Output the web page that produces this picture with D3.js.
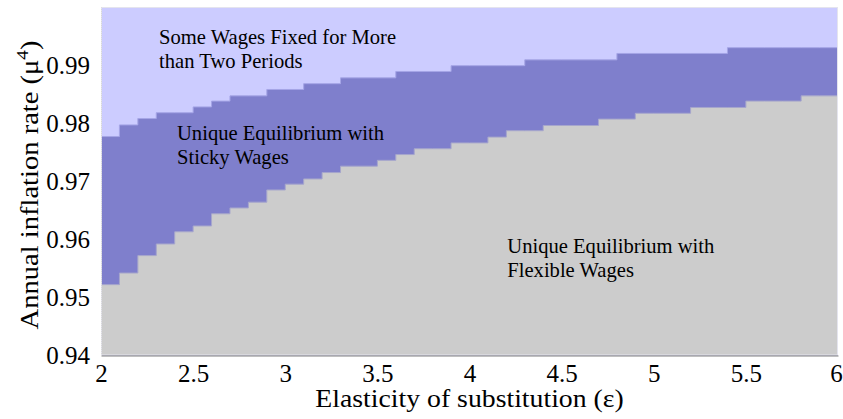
<!DOCTYPE html>
<html>
<head>
<meta charset="utf-8">
<script src="https://cdn.jsdelivr.net/npm/d3@7"></script>
<style>
  html, body { margin: 0; padding: 0; background: #ffffff; }
  svg { display: block; }
  text { font-family: "Liberation Serif", "Times New Roman", serif !important; fill: #000; }
</style>
</head>
<body>
<svg id="chart" width="843" height="419"></svg>
<script>
// Elasticity grid (left edge of each 0.1-wide cell)
const epsStart = [2.0,2.1,2.2,2.3,2.4,2.5,2.6,2.7,2.8,2.9,3.0,3.1,3.2,3.3,3.4,3.5,3.6,3.7,3.8,3.9,
                  4.0,4.1,4.2,4.3,4.4,4.5,4.6,4.7,4.8,4.9,5.0,5.1,5.2,5.3,5.4,5.5,5.6,5.7,5.8,5.9];
const epsEnd = 6.0;
// Upper limit of flexible-wage unique equilibrium (gray region top)
const flexibleTop = [0.9522,0.9542,0.9572,0.9592,0.9613,0.9623,0.9644,0.9654,0.9664,0.9685,
                     0.9695,0.9704,0.9715,0.9726,0.9726,0.9736,0.9746,0.9756,0.9756,0.9766,
                     0.9766,0.9776,0.9787,0.9787,0.9796,0.9796,0.9796,0.9807,0.9807,0.9817,
                     0.9817,0.9817,0.9827,0.9827,0.9827,0.9838,0.9838,0.9838,0.9847,0.9847];
// Upper limit of sticky-wage unique equilibrium (dark purple region top)
const stickyTop = [0.9777,0.9797,0.9808,0.9818,0.9818,0.9828,0.9838,0.9847,0.9847,0.9858,
                   0.9858,0.9868,0.9868,0.9878,0.9878,0.9878,0.9889,0.9889,0.9889,0.9899,
                   0.9899,0.9899,0.9899,0.9909,0.9909,0.9909,0.9909,0.9909,0.9920,0.9920,
                   0.9920,0.9920,0.9920,0.9920,0.9930,0.9930,0.9930,0.9930,0.9930,0.9930];
const xTicks = [2,2.5,3,3.5,4,4.5,5,5.5,6];
const yTicks = [0.94,0.95,0.96,0.97,0.98,0.99];
const regionLabels = [
  {lines:["Some Wages Fixed for More","than Two Periods"], eps:2.315, mu:0.99358},
  {lines:["Unique Equilibrium with","Sticky Wages"], eps:2.4125, mu:0.9771},
  {lines:["Unique Equilibrium with","Flexible Wages"], eps:4.205, mu:0.9576}
];

const svg = d3.select("#chart");
const pL = 101, pR = 838, pT = 7, pB = 355.5;
const x = d3.scaleLinear().domain([2,6]).range([pL,pR]);
const y = d3.scaleLinear().domain([0.94,1.0]).range([pB,pT]);

const pts = (vals) => epsStart.map((e,i)=>[e,vals[i]]).concat([[epsEnd, vals[vals.length-1]]]);

// background: some wages fixed for more than two periods
svg.append("rect").attr("x",x(2)).attr("y",y(1.0))
  .attr("width",x(6)-x(2)).attr("height",y(0.94)-y(1.0)).attr("fill","#ccccff");

const area = d3.area().curve(d3.curveStepAfter)
  .x(d=>x(d[0])).y0(y(0.94)).y1(d=>y(d[1]));
const line = d3.line().curve(d3.curveStepAfter).x(d=>x(d[0])).y(d=>y(d[1]));

svg.append("path").datum(pts(stickyTop)).attr("d",area).attr("fill","#7f7fcc");
svg.append("path").datum(pts(stickyTop)).attr("d",line).attr("fill","none")
  .attr("stroke","#a5a5e6").attr("stroke-width",1);
svg.append("path").datum(pts(flexibleTop)).attr("d",area).attr("fill","#cccccc");
svg.append("path").datum(pts(flexibleTop)).attr("d",line).attr("fill","none")
  .attr("stroke","#a6a6cc").attr("stroke-width",1);

// frame
svg.append("rect").attr("x",pL+0.5).attr("y",pT+0.5)
  .attr("width",pR-pL-1).attr("height",pB-pT-1)
  .attr("fill","none").attr("stroke","#e4e4ee").attr("stroke-width",1);

// axes
const xAxis = svg.append("g").attr("transform",`translate(0,${pB})`)
  .call(d3.axisBottom(x).tickValues(xTicks).tickSize(0).tickPadding(8.5).tickFormat(d3.format("")));
xAxis.attr("font-family",null);
xAxis.select(".domain").attr("stroke","#808080").attr("stroke-width",1.2);
xAxis.selectAll("text").style("font-size","25px")
  .attr("dx",(d,i)=> i===xTicks.length-1 ? -2 : 0);

const yAxis = svg.append("g").attr("transform",`translate(${pL},0)`)
  .call(d3.axisLeft(y).tickValues(yTicks).tickSize(0).tickPadding(11).tickFormat(d3.format(".2f")));
yAxis.attr("font-family",null);
yAxis.select(".domain").attr("stroke","#d8d8d8").attr("stroke-width",1).attr("stroke-dasharray","1,1");
yAxis.selectAll("text").style("font-size","25px");

// axis titles
svg.append("text").attr("transform",`translate(${(pL+pR)/2},407) scale(1.11,1)`)
  .attr("text-anchor","middle").style("font-size","25px")
  .text("Elasticity of substitution (ε)");

const yt = svg.append("text").attr("transform",`translate(38,185) rotate(-90) scale(1.12,1)`)
  .attr("text-anchor","middle").style("font-size","25.5px");
yt.append("tspan").text("Annual inflation rate (μ");
yt.append("tspan").attr("dy",-10).style("font-size","17px").text("4");
yt.append("tspan").attr("dy",10).text(")");

// region labels
regionLabels.forEach(l=>{
  const t = svg.append("text").attr("x",x(l.eps)).attr("y",y(l.mu)).style("font-size","20.6px");
  l.lines.forEach((s,i)=>{
    t.append("tspan").attr("x",x(l.eps)).attr("dy",i===0?0:23.8).text(s);
  });
});
</script>
</body>
</html>
